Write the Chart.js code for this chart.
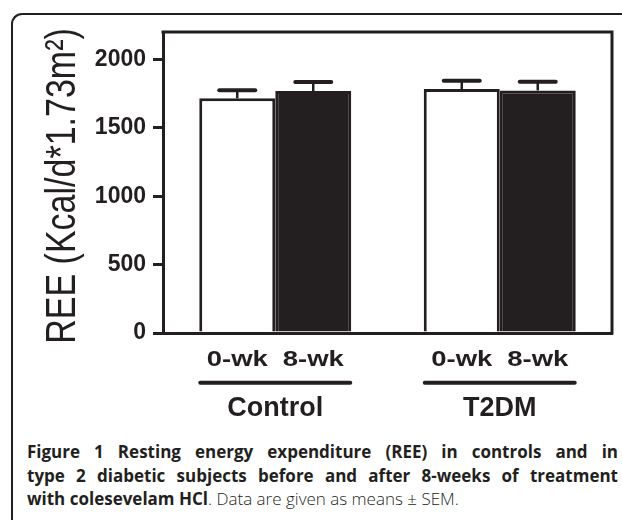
<!DOCTYPE html>
<html>
<head>
<meta charset="utf-8">
<script src="https://cdn.jsdelivr.net/npm/chart.js@4"></script>
<style>
  html, body { margin: 0; padding: 0; background: #fff; }
  body { width: 622px; height: 520px; position: relative; overflow: hidden; }
  .frame {
    position: absolute; left: 11px; top: 13px; width: 700px; height: 600px;
    border-top: 2px solid #231f20; border-left: 2px solid #231f20;
    border-top-left-radius: 11px;
  }
  #chart-wrap { position: absolute; left: 0; top: 0; width: 622px; height: 430px; }
  .caption {
    position: absolute; left: 27px; top: 440px; width: 591px;
    font-family: "Open Sans", sans-serif; font-size: 17px; line-height: 23.5px;
    color: #231f20;
  }
  .caption div { white-space: nowrap; }
  .caption .just { text-align: justify; text-align-last: justify; }
  .caption b { font-weight: 700; }
  .caption .light { font-weight: 300; }
</style>
</head>
<body>
<div class="frame"></div>
<div id="chart-wrap"><canvas id="ree-chart" width="622" height="430"></canvas></div>
<div class="caption">
  <div class="just"><b>Figure 1 Resting energy expenditure (REE) in controls and in</b></div>
  <div class="just"><b>type 2 diabetic subjects before and after 8-weeks of treatment</b></div>
  <div><b>with colesevelam HCl</b><span class="light">. Data are given as means ± SEM.</span></div>
</div>
<script>
// chart data
const groups = ['Control', 'T2DM'];
const weeks = ['0-wk', '8-wk'];
const ree0wk = [1715, 1783];
const ree8wk = [1768, 1773];
const sem0wk = [60, 60];
const sem8wk = [66, 63];
const yTicks = [0, 500, 1000, 1500, 2000];
const yMax = 2200;
const yTitle = 'REE (Kcal/d*1.73m²)';

const ink = '#231f20';
const sems = [sem0wk, sem8wk];
const values = [ree0wk, ree8wk];

// error bars, week labels under each bar, group underlines, plot frame and y title
const figureDecor = {
  id: 'figureDecor',
  afterDatasetsDraw(chart) {
    const ctx = chart.ctx;
    const y = chart.scales.y;
    ctx.save();
    ctx.strokeStyle = ink;
    ctx.fillStyle = ink;

    // SEM bars (upper half only, like the original)
    for (let i = 0; i < values.length; i++) {
      chart.getDatasetMeta(i).data.forEach((bar, j) => {
        const top = y.getPixelForValue(values[i][j] + sems[i][j]);
        ctx.lineCap = 'butt';
        ctx.lineWidth = 2.5;
        ctx.beginPath();
        ctx.moveTo(bar.x, bar.y);
        ctx.lineTo(bar.x, top);
        ctx.stroke();
        ctx.lineCap = 'round';
        ctx.lineWidth = 4;
        ctx.beginPath();
        ctx.moveTo(bar.x - 18, top);
        ctx.lineTo(bar.x + 18, top);
        ctx.stroke();
      });
    }
    ctx.restore();
  },
  afterDraw(chart) {
    const ctx = chart.ctx;
    const area = chart.chartArea;
    const m0 = chart.getDatasetMeta(0).data;
    const m1 = chart.getDatasetMeta(1).data;
    ctx.save();
    ctx.strokeStyle = ink;
    ctx.fillStyle = ink;

    // top and right edges of the plot box
    ctx.lineWidth = 3;
    ctx.lineCap = 'square';
    ctx.beginPath();
    ctx.moveTo(area.left, area.top);
    ctx.lineTo(area.right, area.top);
    ctx.lineTo(area.right, area.bottom);
    ctx.stroke();

    // 0-wk / 8-wk labels (the original type is stretched sideways)
    ctx.font = 'bold 22px "Liberation Sans", Arial, sans-serif';
    ctx.textAlign = 'center';
    ctx.textBaseline = 'alphabetic';
    [m0, m1].forEach((bars, i) => {
      bars.forEach(bar => {
        ctx.save();
        ctx.translate(bar.x, 366);
        ctx.scale(1.25, 1);
        ctx.fillText(weeks[i], 0, 0);
        ctx.restore();
      });
    });

    // line under each pair of bars
    ctx.lineWidth = 4;
    ctx.lineCap = 'round';
    groups.forEach((g, j) => {
      const x0 = m0[j].x - m0[j].width / 2 + 1;
      const x1 = m1[j].x + m1[j].width / 2 - 1;
      ctx.beginPath();
      ctx.moveTo(x0, 382.7);
      ctx.lineTo(x1, 382.7);
      ctx.stroke();
    });

    // rotated y title
    ctx.font = '34px "Liberation Sans", Arial, sans-serif';
    ctx.translate(75, 186);
    ctx.scale(1.25, 1);
    ctx.rotate(-Math.PI / 2);
    ctx.textAlign = 'center';
    ctx.fillText(yTitle, 0, 0);
    ctx.restore();
  }
};

Chart.defaults.font.family = '"Liberation Sans", Arial, sans-serif';

new Chart(document.getElementById('ree-chart'), {
  type: 'bar',
  data: {
    labels: groups,
    datasets: [{
      label: weeks[0],
      data: ree0wk,
      backgroundColor: '#ffffff',
      borderColor: ink,
      borderWidth: 3,
      borderSkipped: 'start'
    }, {
      label: weeks[1],
      data: ree8wk,
      backgroundColor: ink,
      borderColor: ink,
      borderWidth: 3,
      borderSkipped: 'start'
    }]
  },
  options: {
    responsive: false,
    animation: false,
    devicePixelRatio: 1,
    categoryPercentage: 0.677,
    barPercentage: 1,
    layout: { padding: { left: 0, right: 10, top: 32, bottom: 0 } },
    plugins: {
      legend: { display: false },
      tooltip: { enabled: false }
    },
    scales: {
      x: {
        afterFit: s => { s.height = 97; },
        border: { display: true, width: 3, color: ink },
        grid: { display: false, drawTicks: false },
        ticks: {
          color: ink,
          padding: 59,
          font: { size: 27, weight: 'bold' }
        }
      },
      y: {
        min: 0,
        max: yMax,
        afterBuildTicks: s => { s.ticks = yTicks.map(v => ({ value: v })); },
        afterFit: s => { s.width = 163; },
        border: { display: true, width: 3, color: ink },
        grid: { drawOnChartArea: false, drawTicks: true, tickLength: 10, lineWidth: 3, color: ink },
        ticks: {
          color: ink,
          padding: 7,
          font: { size: 23, weight: 'bold' },
          callback: v => String(v)
        }
      }
    }
  },
  plugins: [figureDecor]
});
</script>
</body>
</html>
